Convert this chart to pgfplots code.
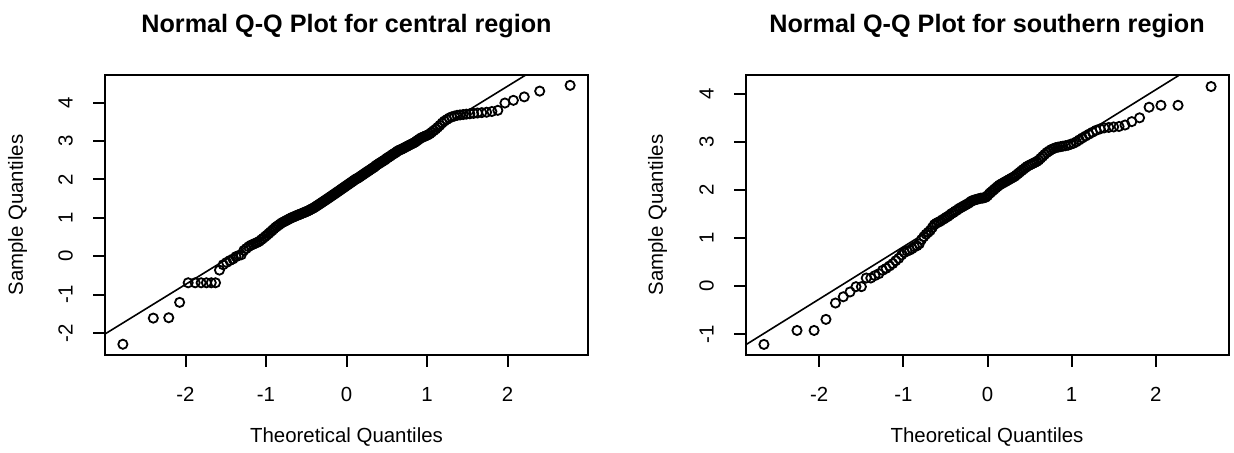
\documentclass[border=0pt]{standalone}
\usepackage{fontspec}
\setmainfont{Liberation Sans}
\usepackage{pgfplots}
\pgfplotsset{compat=1.18}
\pgfplotsset{qq/.style={
  scale only axis, width=241.5pt, height=140pt, anchor=south west,
  axis line style={line width=1pt}, tick style={line width=1pt, black},
  major tick length=6pt, tick align=outside, xtick pos=bottom, ytick pos=left,
  xtick={-2,-1,0,1,2}, xticklabels={-2,-1,0,1,2},
  ticklabel style={font=\fontsize{10.2}{12}\selectfont},
  xticklabel style={anchor=base, yshift=-17.35pt},
  yticklabel style={anchor=center, xshift=-13.75pt, rotate=90},
}}
\begin{document}
\begin{tikzpicture}
\useasboundingbox (0,0) rectangle (617pt,226.5pt);
\begin{axis}[qq, at={(52.5pt,49pt)}, xmin=-3, xmax=3, ymin=-2.57, ymax=4.72,
  ytick={-2,-1,0,1,2,3,4}, yticklabels={-2,-1,0,1,2,3,4}]
\addplot[black, line width=0.8pt] coordinates {(-3.2,-2.281) (3.2,5.975)};
\addplot[only marks, mark=o, mark size=2.3pt, black, mark options={line width=0.9pt}] coordinates {
(-2.778,-2.29) (-2.400,-1.61) (-2.208,-1.60) (-2.073,-1.20) (-1.967,-0.69) (-1.880,-0.69)
(-1.806,-0.69) (-1.740,-0.69) (-1.680,-0.69) (-1.627,-0.69) (-1.578,-0.36) (-1.532,-0.22)
(-1.489,-0.16) (-1.449,-0.11) (-1.410,-0.07) (-1.374,-0.01) (-1.340,0.02) (-1.307,0.04)
(-1.276,0.15) (-1.246,0.20) (-1.216,0.25) (-1.188,0.29) (-1.160,0.31) (-1.134,0.34)
(-1.108,0.36) (-1.083,0.39) (-1.059,0.43) (-1.035,0.47) (-1.012,0.51) (-0.989,0.55)
(-0.967,0.59) (-0.946,0.63) (-0.924,0.67) (-0.904,0.71) (-0.883,0.75) (-0.864,0.78)
(-0.844,0.81) (-0.824,0.84) (-0.805,0.87) (-0.786,0.89) (-0.768,0.91) (-0.750,0.93)
(-0.732,0.95) (-0.714,0.97) (-0.696,0.99) (-0.678,1.01) (-0.661,1.02) (-0.644,1.04)
(-0.628,1.05) (-0.611,1.07) (-0.595,1.08) (-0.579,1.09) (-0.563,1.11) (-0.546,1.12)
(-0.530,1.14) (-0.515,1.15) (-0.499,1.16) (-0.484,1.18) (-0.469,1.19) (-0.453,1.21)
(-0.438,1.23) (-0.423,1.24) (-0.408,1.26) (-0.393,1.28) (-0.378,1.30) (-0.364,1.32)
(-0.349,1.34) (-0.335,1.36) (-0.320,1.38) (-0.306,1.40) (-0.292,1.42) (-0.277,1.44)
(-0.263,1.46) (-0.249,1.48) (-0.235,1.50) (-0.221,1.52) (-0.207,1.54) (-0.193,1.56)
(-0.179,1.58) (-0.165,1.60) (-0.151,1.62) (-0.137,1.64) (-0.124,1.66) (-0.110,1.68)
(-0.096,1.70) (-0.082,1.72) (-0.069,1.74) (-0.055,1.76) (-0.041,1.78) (-0.027,1.80)
(-0.014,1.82) (0,1.84)
(0.014,1.86) (0.027,1.88) (0.041,1.90) (0.055,1.92) (0.069,1.94) (0.082,1.96)
(0.096,1.98) (0.110,2.00) (0.124,2.02) (0.137,2.03) (0.151,2.05) (0.165,2.07)
(0.179,2.09) (0.193,2.11) (0.207,2.13) (0.221,2.15) (0.235,2.17) (0.249,2.19)
(0.263,2.21) (0.277,2.23) (0.292,2.25) (0.306,2.27) (0.320,2.29) (0.335,2.31)
(0.349,2.33) (0.364,2.36) (0.378,2.38) (0.393,2.40) (0.408,2.42) (0.423,2.44)
(0.438,2.46) (0.453,2.48) (0.469,2.50) (0.484,2.52) (0.499,2.55) (0.515,2.57)
(0.530,2.59) (0.546,2.61) (0.563,2.64) (0.579,2.66) (0.595,2.68) (0.611,2.70)
(0.628,2.73) (0.644,2.75) (0.661,2.77) (0.678,2.78) (0.696,2.80) (0.714,2.82)
(0.732,2.84) (0.750,2.86) (0.768,2.88) (0.786,2.90) (0.805,2.92) (0.824,2.94)
(0.844,2.96) (0.864,2.99) (0.883,3.02) (0.904,3.05) (0.924,3.08) (0.946,3.10)
(0.967,3.12) (0.989,3.14) (1.012,3.16) (1.035,3.19) (1.059,3.23) (1.083,3.27)
(1.108,3.31) (1.134,3.36) (1.160,3.41) (1.188,3.47) (1.216,3.52) (1.246,3.56)
(1.276,3.60) (1.307,3.63) (1.340,3.65) (1.374,3.67) (1.410,3.68) (1.449,3.69)
(1.489,3.70) (1.532,3.71) (1.578,3.72) (1.627,3.73) (1.680,3.74) (1.740,3.75)
(1.806,3.77) (1.880,3.80) (1.968,3.99) (2.073,4.06) (2.208,4.15) (2.400,4.30)
(2.778,4.45)
};
\end{axis}
\begin{axis}[qq, at={(373pt,49pt)}, xmin=-2.87, xmax=2.87, ymin=-1.43, ymax=4.39,
  ytick={-1,0,1,2,3,4}, yticklabels={-1,0,1,2,3,4}]
\addplot[black, line width=0.8pt] coordinates {(-3.0,-1.356) (3.0,5.172)};
\addplot[only marks, mark=o, mark size=2.3pt, black, mark options={line width=0.9pt}] coordinates {
(-2.657,-1.21) (-2.264,-0.92) (-2.061,-0.92) (-1.920,-0.69) (-1.807,-0.35) (-1.714,-0.22)
(-1.634,-0.12) (-1.563,-0.01) (-1.499,-0.01) (-1.441,0.17) (-1.387,0.17) (-1.338,0.22)
(-1.291,0.26) (-1.247,0.33) (-1.205,0.37) (-1.165,0.42) (-1.126,0.47) (-1.090,0.53)
(-1.055,0.58) (-1.021,0.65) (-0.988,0.70) (-0.957,0.73) (-0.926,0.75) (-0.896,0.78)
(-0.868,0.82) (-0.839,0.84) (-0.811,0.88) (-0.784,0.97) (-0.757,1.03) (-0.731,1.08)
(-0.705,1.12) (-0.680,1.16) (-0.656,1.22) (-0.632,1.28) (-0.608,1.31) (-0.584,1.33)
(-0.561,1.35) (-0.538,1.38) (-0.515,1.40) (-0.493,1.43) (-0.471,1.45) (-0.449,1.48)
(-0.427,1.51) (-0.405,1.53) (-0.384,1.56) (-0.363,1.58) (-0.342,1.61) (-0.321,1.63)
(-0.300,1.65) (-0.280,1.67) (-0.259,1.69) (-0.239,1.71) (-0.219,1.73) (-0.199,1.76)
(-0.178,1.78) (-0.158,1.79) (-0.139,1.80) (-0.119,1.81) (-0.098,1.82) (-0.079,1.83)
(-0.059,1.83) (-0.039,1.84) (-0.020,1.85) (0,1.88)
(0.020,1.92) (0.039,1.95) (0.059,1.98) (0.079,2.01) (0.098,2.04) (0.119,2.07)
(0.139,2.10) (0.158,2.12) (0.178,2.14) (0.199,2.16) (0.219,2.18) (0.239,2.20)
(0.259,2.22) (0.280,2.24) (0.300,2.26) (0.321,2.28) (0.342,2.31) (0.363,2.34)
(0.384,2.37) (0.405,2.40) (0.427,2.43) (0.449,2.46) (0.471,2.49) (0.493,2.51)
(0.515,2.53) (0.538,2.55) (0.561,2.57) (0.584,2.59) (0.608,2.62) (0.632,2.66)
(0.656,2.70) (0.680,2.74) (0.705,2.78) (0.731,2.81) (0.757,2.84) (0.784,2.86)
(0.811,2.88) (0.839,2.89) (0.868,2.90) (0.896,2.91) (0.926,2.92) (0.957,2.93)
(0.988,2.95) (1.021,2.97) (1.055,3.00) (1.090,3.04) (1.126,3.08) (1.165,3.12)
(1.205,3.16) (1.247,3.20) (1.291,3.24) (1.338,3.27) (1.387,3.29) (1.441,3.30)
(1.499,3.31) (1.563,3.32) (1.634,3.35) (1.714,3.42) (1.807,3.50) (1.920,3.72)
(2.061,3.76) (2.264,3.76) (2.657,4.15)
};
\end{axis}
\begin{scope}[every node/.style={inner sep=0pt}]
\node[anchor=base, font=\fontsize{12.6}{15}\selectfont\bfseries] at (173.25pt,210pt) {Normal Q-Q Plot for central region};
\node[anchor=base, font=\fontsize{12.6}{15}\selectfont\bfseries] at (493.5pt,210pt) {Normal Q-Q Plot for southern region};
\node[anchor=base, font=\fontsize{10.2}{12}\selectfont] at (173.25pt,5.25pt) {Theoretical Quantiles};
\node[anchor=base, font=\fontsize{10.2}{12}\selectfont] at (493.5pt,5.25pt) {Theoretical Quantiles};
\node[anchor=center, rotate=90, font=\fontsize{10.2}{12}\selectfont] at (8.75pt,119pt) {Sample Quantiles};
\node[anchor=center, rotate=90, font=\fontsize{10.2}{12}\selectfont] at (328.75pt,119pt) {Sample Quantiles};
\end{scope}
\end{tikzpicture}
\end{document}
